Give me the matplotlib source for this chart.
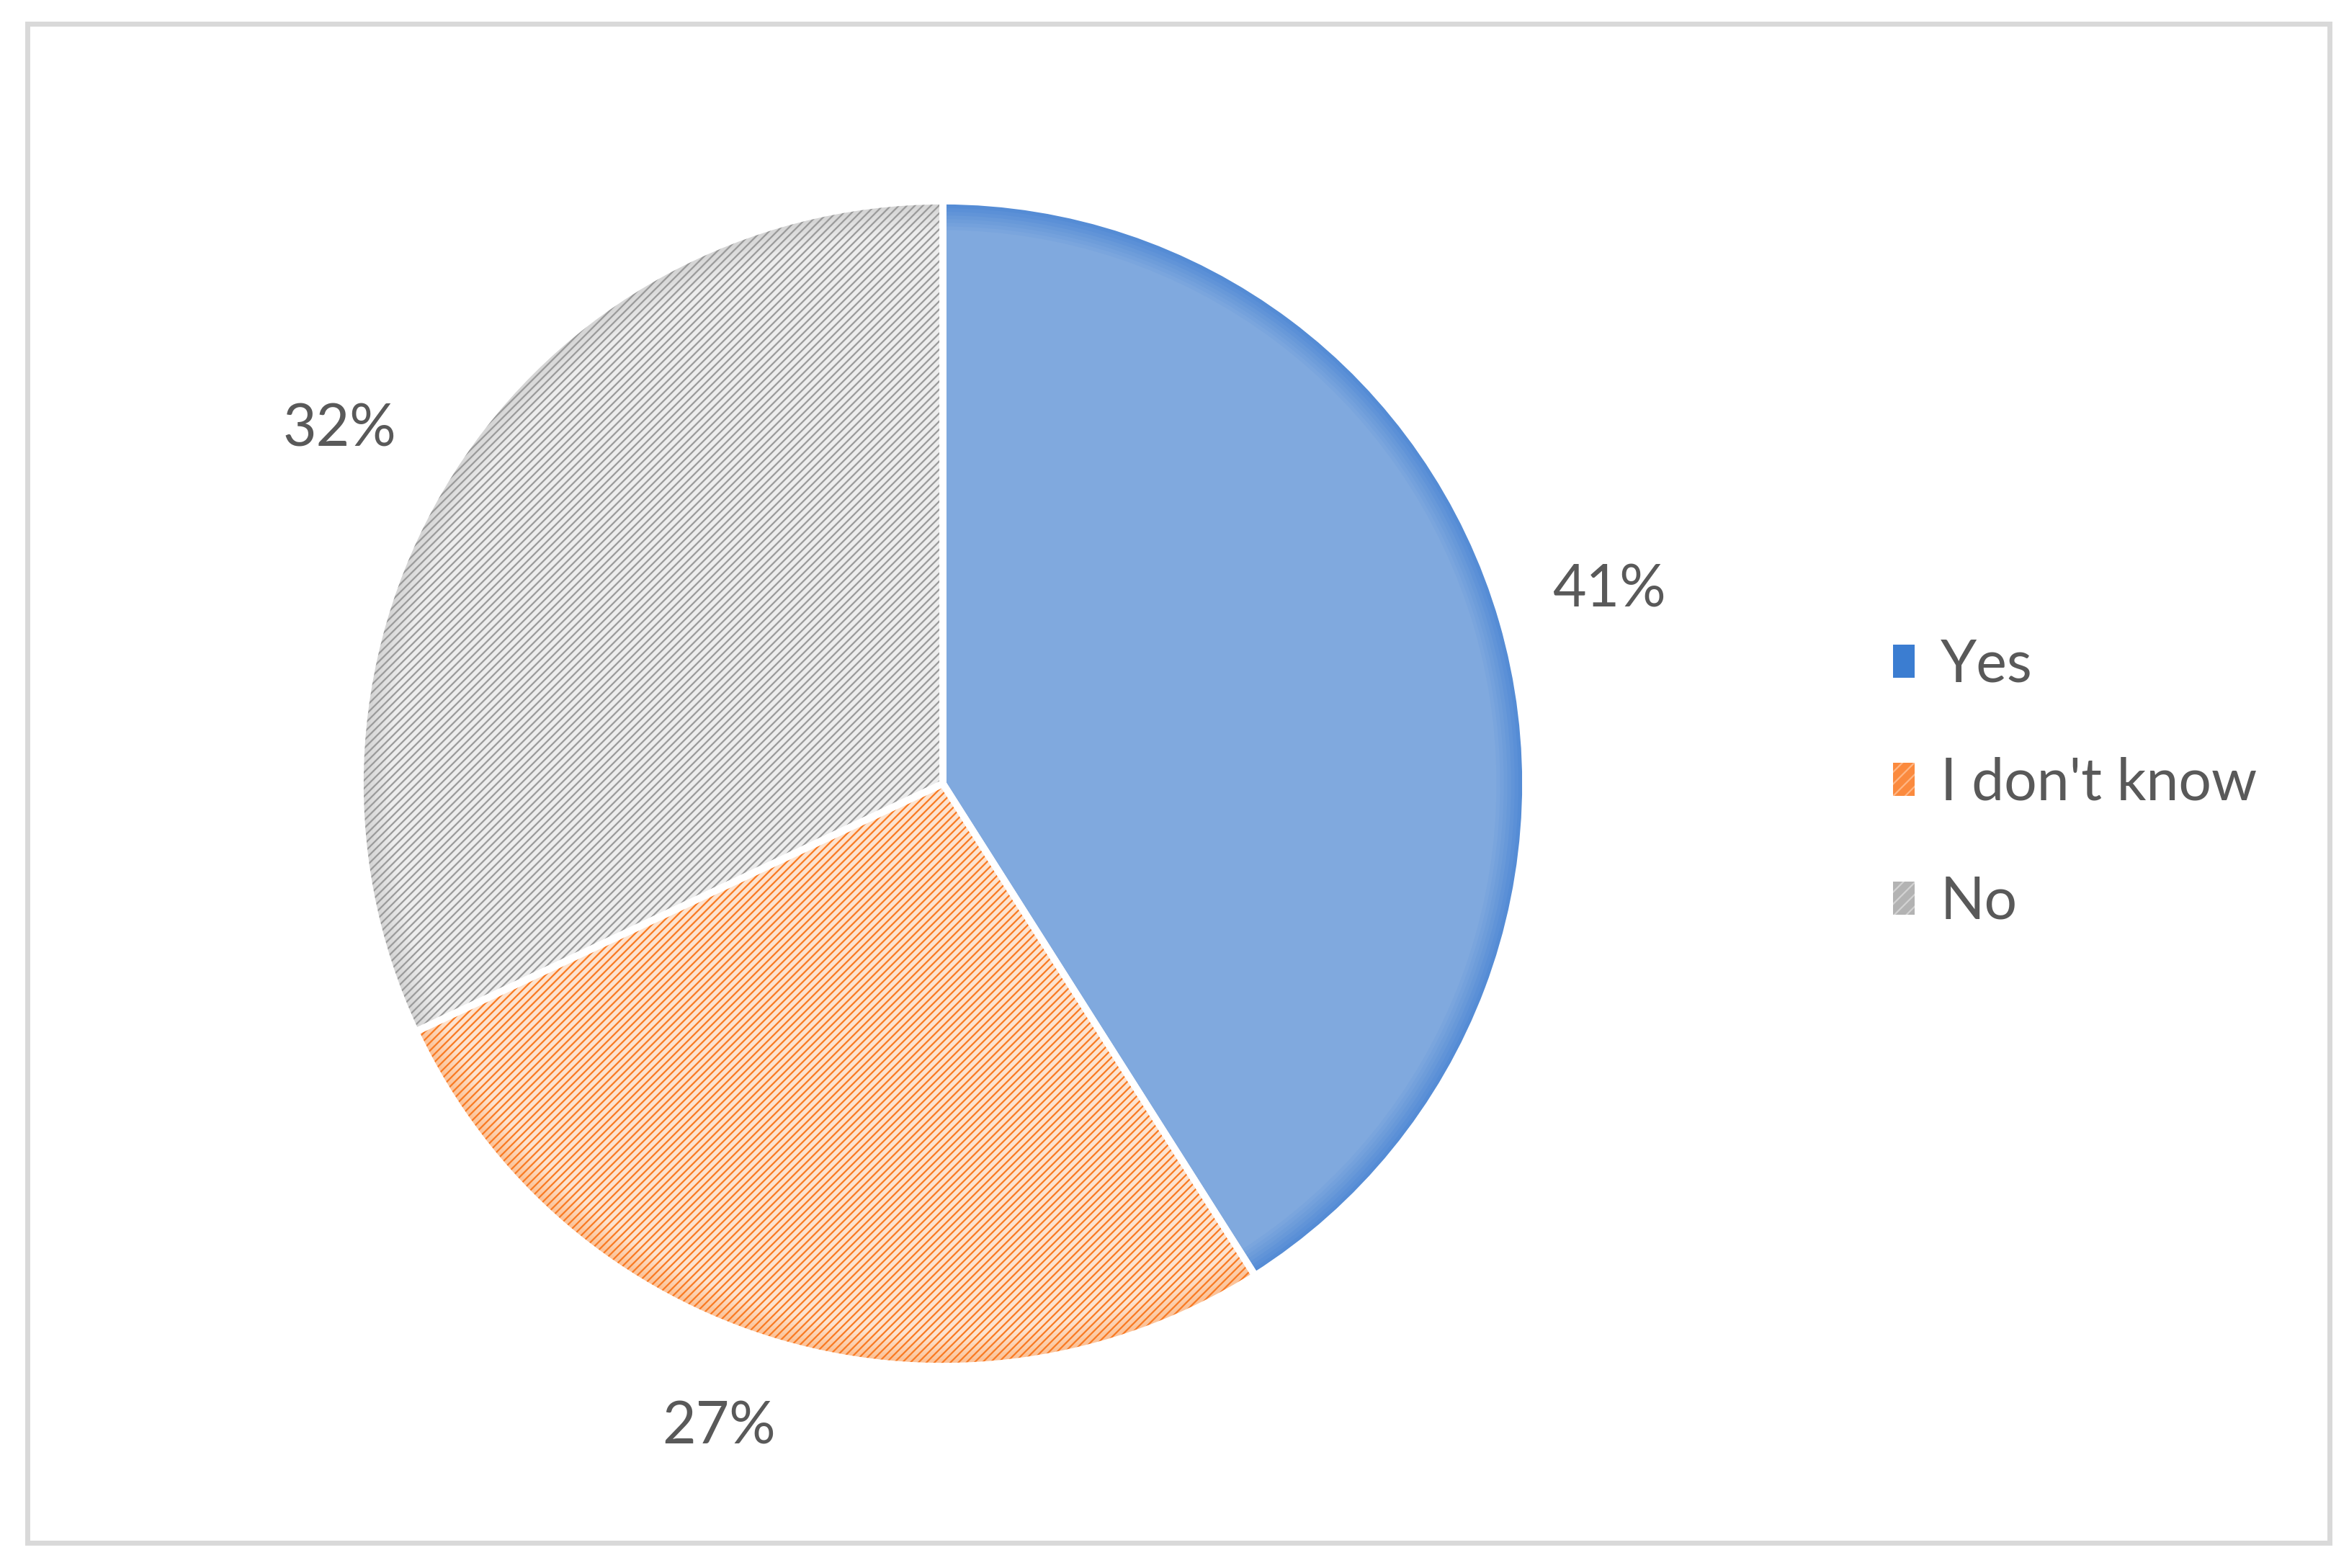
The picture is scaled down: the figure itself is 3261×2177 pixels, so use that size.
import matplotlib
matplotlib.use('Agg')
import matplotlib.pyplot as plt
import matplotlib.colors as mcolors
import numpy as np
from matplotlib.patches import Patch, Rectangle

labels = ['Yes', "I don't know", 'No']
shares = [41, 27, 32]

rim_colors = ['#4f88d4', '#fbbf92', '#d2d2d2']
face_colors = ['#80a9de', '#fde3cf', '#ededed']
hatch_colors = [None, '#f97a22', '#9a9a9a']
legend_colors = ['#3b7dd1', '#fb8a3e', '#b3b3b3']
legend_hatch = [None, '#ffb684', '#d2d2d2']
text_color = '#595959'

# label placement tweaks (Excel "best fit" look)
label_dist = [1.19, 1.17, 1.2]
label_turn = [0, -3, 2]


def blend(c1, c2, t):
    a = np.array(mcolors.to_rgb(c1))
    b = np.array(mcolors.to_rgb(c2))
    return tuple(a + (b - a) * t)


def main():
    plt.rcParams['font.family'] = ['Lato', 'DejaVu Sans']
    plt.rcParams['hatch.linewidth'] = 1.6

    W, H, dpi = 3261, 2177, 100
    fig = plt.figure(figsize=(W / dpi, H / dpi), dpi=dpi)

    # outer light gray frame
    fig.add_artist(Rectangle((38 / W, 1 - 2142 / H), (3234 - 38) / W, (2142 - 33) / H,
                             transform=fig.transFigure, fill=False,
                             edgecolor='#d9d9d9', linewidth=5))

    cx, cy, r = 1309, 1088, 809
    ax = fig.add_axes([(cx - r) / W, (H - cy - r) / H, 2 * r / W, 2 * r / H])

    # soft darker rim fading into the face colour
    steps = np.linspace(0, 1, 9)
    radii = 1 - 0.05 * steps
    wedges = None
    for rad, t in zip(radii, steps):
        cols = [blend(rc, fc, t) for rc, fc in zip(rim_colors, face_colors)]
        ws, _ = ax.pie(shares, startangle=90, counterclock=False, radius=rad,
                       colors=cols, wedgeprops=dict(linewidth=0))
        if wedges is None:
            wedges = ws

    # hatch layer
    hw, _ = ax.pie(shares, startangle=90, counterclock=False,
                   colors=['none'] * 3, wedgeprops=dict(linewidth=0))
    for w, hc in zip(hw, hatch_colors):
        if hc is None:
            continue
        w.set_hatch('///')
        w.set_edgecolor(hc)
        w.set_linewidth(0)

    # white separators
    ax.pie(shares, startangle=90, counterclock=False, colors=['none'] * 3,
           wedgeprops=dict(edgecolor='white', linewidth=7, fill=False))

    # percentage labels outside the slices
    total = sum(shares)
    for w, v, d, turn in zip(wedges, shares, label_dist, label_turn):
        ang = np.deg2rad((w.theta1 + w.theta2) / 2 + turn)
        ax.text(d * np.cos(ang), d * np.sin(ang), f'{100 * v / total:.0f}%',
                ha='center', va='center', fontsize=58, color=text_color)

    ax.set_xlim(-1, 1)
    ax.set_ylim(-1, 1)

    handles = []
    for lab, c, hc in zip(labels, legend_colors, legend_hatch):
        if hc is None:
            handles.append(Patch(facecolor=c, edgecolor='none', label=lab))
        else:
            handles.append(Patch(facecolor=c, edgecolor=hc, linewidth=0,
                                 hatch='//', label=lab))
    fig.legend(handles=handles, loc='center left',
               bbox_to_anchor=(2628 / W, 1 - 1088 / H),
               frameon=False, fontsize=58, labelcolor=text_color,
               handlelength=0.37, handleheight=0.5, handletextpad=0.45,
               labelspacing=1.12, borderpad=0, borderaxespad=0)

    fig.savefig('out.png', dpi=dpi, facecolor='white')


main()
